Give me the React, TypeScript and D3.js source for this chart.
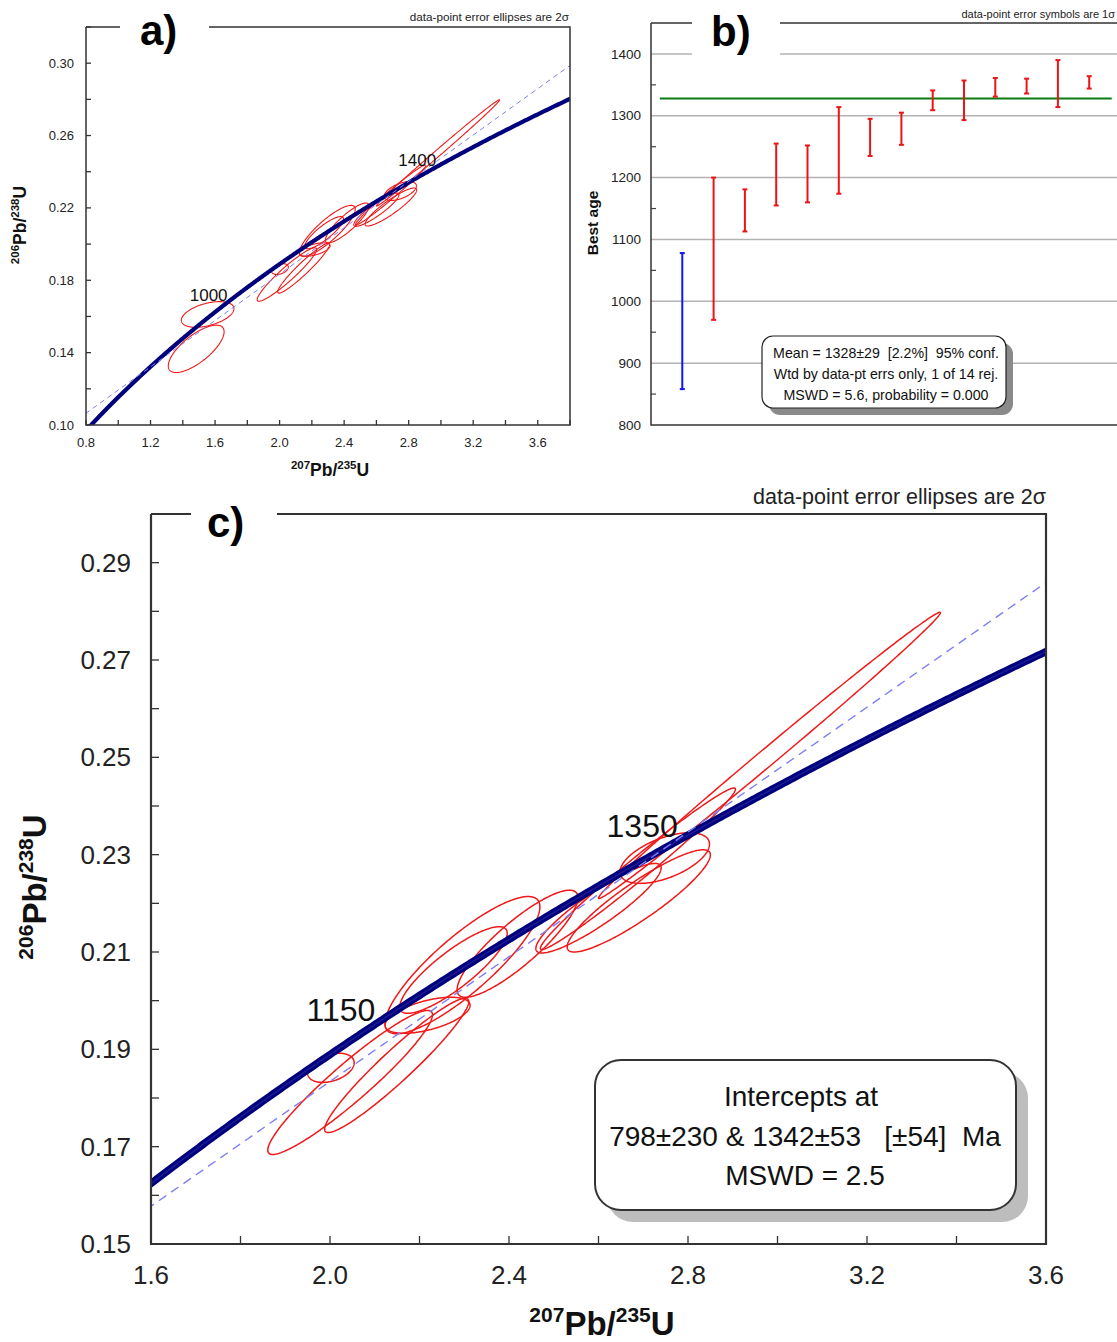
import React from 'react';
import * as d3 from 'd3';

// ---------- constants (decay constants, per Ma) ----------
const LAMBDA_238 = 1.55125e-4;
const LAMBDA_235 = 9.8485e-4;

// ---------- panel b data ----------
const grainRank = [1, 2, 3, 4, 5, 6, 7, 8, 9, 10, 11, 12, 13, 14];
const bestAge = [968, 1085, 1147, 1205, 1206, 1244, 1265, 1279, 1325, 1325, 1346, 1348, 1352, 1354];
const bestAgeErr1s = [110, 115, 34, 50, 46, 70, 30, 26, 16, 32, 15, 12, 38, 10];
const rejectedFlag = [true, false, false, false, false, false, false, false, false, false, false, false, false, false];
const weightedMeanAge = 1328;
const ageGridTicks = [900, 1000, 1100, 1200, 1300, 1400];
const ageLabelTicks = [800, 900, 1000, 1100, 1200, 1300, 1400];
const ageMinorTicks = [850, 950, 1050, 1150, 1250, 1350];

// ---------- concordia ellipse data (2 sigma) ----------
const ratio207_235 = [1.483, 1.554, 2.002, 2.045, 2.149, 2.218, 2.296, 2.276, 2.419, 2.600, 2.688, 2.748, 2.982, 2.690];
const ratio206_238 = [0.1421, 0.1611, 0.1862, 0.1832, 0.1867, 0.1970, 0.2073, 0.2063, 0.2117, 0.2190, 0.2271, 0.2293, 0.2504, 0.2205];
const err207_235 = [0.173, 0.163, 0.052, 0.184, 0.161, 0.095, 0.173, 0.120, 0.135, 0.140, 0.218, 0.100, 0.382, 0.160];
const err206_238 = [0.0131, 0.0071, 0.0030, 0.0148, 0.0138, 0.0037, 0.0141, 0.0089, 0.0110, 0.0092, 0.0166, 0.0052, 0.0294, 0.0105];
const errCorr = [0.72, 0.45, 0.35, 0.94, 0.95, 0.55, 0.85, 0.85, 0.86, 0.90, 0.985, 0.55, 0.997, 0.9];
const plottedInC = [false, false, true, true, true, true, true, true, true, true, true, true, true, true];

const interceptAges = [798, 1342];

// ---------- axis tick labels ----------
const xLabelsA = [0.8, 1.2, 1.6, 2.0, 2.4, 2.8, 3.2, 3.6];
const xTicksA = [0.8, 1.0, 1.2, 1.4, 1.6, 1.8, 2.0, 2.2, 2.4, 2.6, 2.8, 3.0, 3.2, 3.4, 3.6, 3.8];
const yLabelsA = [0.10, 0.14, 0.18, 0.22, 0.26, 0.30];
const yTicksA = [0.10, 0.12, 0.14, 0.16, 0.18, 0.20, 0.22, 0.24, 0.26, 0.28, 0.30, 0.32];
const ageLabelsA = [1000, 1400];

const xLabelsC = [1.6, 2.0, 2.4, 2.8, 3.2, 3.6];
const xTicksC = [1.6, 1.8, 2.0, 2.2, 2.4, 2.6, 2.8, 3.0, 3.2, 3.4, 3.6];
const yLabelsC = [0.15, 0.17, 0.19, 0.21, 0.23, 0.25, 0.27, 0.29];
const yTicksC = [0.15, 0.16, 0.17, 0.18, 0.19, 0.20, 0.21, 0.22, 0.23, 0.24, 0.25, 0.26, 0.27, 0.28, 0.29, 0.30];
const ageLabelsC = [1150, 1350];

const FONT = '"Liberation Sans", Arial, Helvetica, sans-serif';
const RED = '#f01818';
const NAVY = '#00007c';
const NB = '\u00A0';

const conc = (t: number): [number, number] => [Math.expm1(LAMBDA_235 * t), Math.expm1(LAMBDA_238 * t)];
const concordiaAges = d3.range(1, 2400, 2);

type PanelCfg = {
  id: string; left: number; right: number; top: number; bottom: number;
  xDom: [number, number]; yDom: [number, number];
  xTicks: number[]; yTicks: number[]; xLabels: number[]; yLabels: number[];
  xFmt: (v: number) => string; yFmt: (v: number) => string;
  tickLen: number; tickFont: number; xLabelY: number; yLabelX: number;
  concWidth: number; ellWidth: number; ageLabels: number[]; ageFont: number;
  ageDx: number; ageDy: number; subset: boolean[];
  frameW: number; gap: [number, number]; letter: string; letterX: number; letterY: number; letterSize: number;
  note: string; noteX: number; noteY: number; noteSize: number;
  titleSize: number; supSize: number; xTitleX: number; xTitleY: number; yTitleX: number; yTitleY: number;
};

function AxisTitle({ x, y, a, b, c, d, size, sup, rotate }: any) {
  return (
    <text x={x} y={y} textAnchor="middle" fontFamily={FONT} fontWeight="bold" fontSize={size} fill="#111"
      transform={rotate ? `rotate(-90 ${x} ${y})` : undefined}>
      <tspan fontSize={sup} dy={-size * 0.38}>{a}</tspan>
      <tspan dy={size * 0.38}>{b}</tspan>
      <tspan fontSize={sup} dy={-size * 0.38}>{c}</tspan>
      <tspan dy={size * 0.38}>{d}</tspan>
    </text>
  );
}

function ConcordiaPanel({ cfg }: { cfg: PanelCfg }) {
  const xs = d3.scaleLinear().domain(cfg.xDom).range([cfg.left, cfg.right]);
  const ys = d3.scaleLinear().domain(cfg.yDom).range([cfg.bottom, cfg.top]);
  const line = d3.line<[number, number]>().x(d => xs(d[0])).y(d => ys(d[1]));
  const concPath = line(concordiaAges.map(conc)) || '';
  const [p1, p2] = interceptAges.map(conc);
  const slope = (p2[1] - p1[1]) / (p2[0] - p1[0]);
  const discPath = line([
    [cfg.xDom[0] - 1, p1[1] + slope * (cfg.xDom[0] - 1 - p1[0])],
    [cfg.xDom[1] + 1, p1[1] + slope * (cfg.xDom[1] + 1 - p1[0])],
  ]) || '';
  const closed = d3.line<[number, number]>().x(d => xs(d[0])).y(d => ys(d[1])).curve(d3.curveLinearClosed);
  const ellPaths = ratio207_235.map((cx, i) => {
    if (!cfg.subset[i]) return '';
    const cy = ratio206_238[i], sx = err207_235[i], sy = err206_238[i], r = errCorr[i];
    const q = Math.sqrt(1 - r * r);
    const pts = d3.range(0, 360, 1.5).map(deg => {
      const th = (deg * Math.PI) / 180;
      return [cx + sx * Math.cos(th), cy + sy * (r * Math.cos(th) + q * Math.sin(th))] as [number, number];
    });
    return closed(pts) || '';
  });
  const clipId = `clip-${cfg.id}`;
  return (
    <g>
      <defs>
        <clipPath id={clipId}>
          <rect x={cfg.left} y={cfg.top} width={cfg.right - cfg.left} height={cfg.bottom - cfg.top} />
        </clipPath>
      </defs>
      <g clipPath={`url(#${clipId})`}>
        {ellPaths.map((p, i) => p ? (
          <path key={i} d={p} fill="none" stroke={RED} strokeWidth={cfg.ellWidth} />
        ) : null)}
        <path d={concPath} fill="none" stroke={NAVY} strokeWidth={cfg.concWidth} />
        {cfg.concWidth > 5 && <path d={concPath} fill="none" stroke="#1a1a96" strokeWidth={1.5} />}
        <path d={discPath} fill="none" stroke="#7f7ff2" strokeWidth={cfg.concWidth > 5 ? 1.4 : 1} strokeDasharray={cfg.concWidth > 5 ? '9 6' : '5 4'} />
      </g>
      {cfg.ageLabels.map(a => {
        const [px, py] = conc(a);
        return (
          <text key={a} x={xs(px) + cfg.ageDx} y={ys(py) + cfg.ageDy} textAnchor="end" fontFamily={FONT} fontSize={cfg.ageFont} fill="#111">{a}</text>
        );
      })}
      {cfg.xTicks.map(v => (
        <line key={'xt' + v} x1={xs(v)} x2={xs(v)} y1={cfg.bottom} y2={cfg.bottom - cfg.tickLen} stroke="#333" strokeWidth={1.3} />
      ))}
      {cfg.yTicks.map(v => (
        <line key={'yt' + v} x1={cfg.left} x2={cfg.left + cfg.tickLen} y1={ys(v)} y2={ys(v)} stroke="#333" strokeWidth={1.3} />
      ))}
      {cfg.xLabels.map(v => (
        <text key={'xl' + v} x={xs(v)} y={cfg.xLabelY} textAnchor="middle" fontFamily={FONT} fontSize={cfg.tickFont} fill="#222">{cfg.xFmt(v)}</text>
      ))}
      {cfg.yLabels.map(v => (
        <text key={'yl' + v} x={cfg.yLabelX} y={ys(v)} dy="0.35em" textAnchor="end" fontFamily={FONT} fontSize={cfg.tickFont} fill="#222">{cfg.yFmt(v)}</text>
      ))}
      <path d={`M${cfg.left},${cfg.top}V${cfg.bottom}H${cfg.right}V${cfg.top}H${cfg.gap[1]}M${cfg.gap[0]},${cfg.top}H${cfg.left}`}
        fill="none" stroke="#333" strokeWidth={cfg.frameW} />
      <text x={cfg.letterX} y={cfg.letterY} fontFamily={FONT} fontWeight="bold" fontSize={cfg.letterSize} fill="#000">{cfg.letter}</text>
      <text x={cfg.noteX} y={cfg.noteY} textAnchor="end" fontFamily={FONT} fontSize={cfg.noteSize} fill="#222">{cfg.note}</text>
      <AxisTitle x={cfg.xTitleX} y={cfg.xTitleY} a="207" b="Pb/" c="235" d="U" size={cfg.titleSize} sup={cfg.supSize} />
      <AxisTitle x={cfg.yTitleX} y={cfg.yTitleY} a="206" b="Pb/" c="238" d="U" size={cfg.titleSize} sup={cfg.supSize} rotate />
    </g>
  );
}

const cfgA: PanelCfg = {
  id: 'a', left: 86, right: 570, top: 27, bottom: 425,
  xDom: [0.8, 3.8], yDom: [0.10, 0.32],
  xTicks: xTicksA, yTicks: yTicksA, xLabels: xLabelsA, yLabels: yLabelsA,
  xFmt: d3.format('.1f'), yFmt: d3.format('.2f'),
  tickLen: 5, tickFont: 13, xLabelY: 447, yLabelX: 74,
  concWidth: 4.2, ellWidth: 1.1, ageLabels: ageLabelsA, ageFont: 17, ageDx: 0, ageDy: -1,
  subset: ratio207_235.map(() => true),
  frameW: 1.5, gap: [120, 209], letter: 'a)', letterX: 140, letterY: 45, letterSize: 42,
  note: 'data-point error ellipses are 2σ', noteX: 569, noteY: 21, noteSize: 11.7,
  titleSize: 17.5, supSize: 11.5, xTitleX: 330, xTitleY: 476, yTitleX: 26, yTitleY: 225,
};

const cfgC: PanelCfg = {
  id: 'c', left: 151, right: 1046, top: 514, bottom: 1244,
  xDom: [1.6, 3.6], yDom: [0.15, 0.30],
  xTicks: xTicksC, yTicks: yTicksC, xLabels: xLabelsC, yLabels: yLabelsC,
  xFmt: d3.format('.1f'), yFmt: d3.format('.2f'),
  tickLen: 8, tickFont: 26, xLabelY: 1284, yLabelX: 131,
  concWidth: 7.5, ellWidth: 1.5, ageLabels: ageLabelsC, ageFont: 32, ageDx: -1, ageDy: -3,
  subset: plottedInC,
  frameW: 2.2, gap: [191, 277], letter: 'c)', letterX: 207, letterY: 537, letterSize: 42,
  note: 'data-point error ellipses are 2σ', noteX: 1046, noteY: 504, noteSize: 21.5,
  titleSize: 33, supSize: 21, xTitleX: 602, xTitleY: 1335, yTitleX: 46, yTitleY: 887,
};

function PanelB() {
  const left = 651, top = 23, bottom = 425, right = 1130;
  const xs = d3.scaleLinear().domain([0, 15]).range([651, 1120.5]);
  const ys = d3.scaleLinear().domain([800, 1450]).range([425, 23]);
  return (
    <g>
      {ageGridTicks.map(v => (
        <line key={'g' + v} x1={left} x2={right} y1={ys(v)} y2={ys(v)} stroke="#b2b2b2" strokeWidth={1.5} />
      ))}
      {ageMinorTicks.map(v => (
        <line key={'m' + v} x1={left} x2={left + 5} y1={ys(v)} y2={ys(v)} stroke="#444" strokeWidth={1.2} />
      ))}
      <line x1={xs(0.28)} x2={xs(14.72)} y1={ys(weightedMeanAge)} y2={ys(weightedMeanAge)} stroke="#0b7a12" strokeWidth={2} />
      {grainRank.map((r, i) => {
        const col = rejectedFlag[i] ? '#1414f0' : '#ec1414';
        const x = xs(r);
        const y1 = ys(bestAge[i] + bestAgeErr1s[i]);
        const y2 = ys(bestAge[i] - bestAgeErr1s[i]);
        return (
          <g key={r} stroke={col} strokeWidth={2}>
            <line x1={x} x2={x} y1={y1} y2={y2} />
            <line x1={x - 2.5} x2={x + 2.5} y1={y1} y2={y1} />
            <line x1={x - 2.5} x2={x + 2.5} y1={y2} y2={y2} />
          </g>
        );
      })}
      <path d={`M${left},${top}V${bottom}H${right}M${right},${top}H780M692,${top}H${left}`} fill="none" stroke="#333" strokeWidth={1.5} />
      <rect x={692} y={0} width={88} height={60} fill="#fff" />
      <text x={711} y={46} fontFamily={FONT} fontWeight="bold" fontSize={42} fill="#000">b)</text>
      {ageLabelTicks.map(v => (
        <text key={'l' + v} x={641} y={ys(v)} dy="0.35em" textAnchor="end" fontFamily={FONT} fontSize={13.5} fill="#222">{v}</text>
      ))}
      <text x={598} y={223} textAnchor="middle" transform="rotate(-90 598 223)" fontFamily={FONT} fontWeight="bold" fontSize={15.5} fill="#111">Best age</text>
      <text x={1115} y={18} textAnchor="end" fontFamily={FONT} fontSize={11} fill="#222">data-point error symbols are 1σ</text>
      <rect x={769} y={343} width={244} height={72} rx={11} fill="#8a8a8a" />
      <rect x={762} y={336} width={244} height={72} rx={11} fill="#fff" stroke="#222" strokeWidth={1.2} />
      <g fontFamily={FONT} fontSize={14.2} fill="#111" textAnchor="middle">
        <text x={886} y={358}>{`Mean = 1328±29${NB}${NB}[2.2%]${NB}${NB}95% conf.`}</text>
        <text x={886} y={379}>{'Wtd by data-pt errs only, 1 of 14 rej.'}</text>
        <text x={886} y={400}>{'MSWD = 5.6, probability = 0.000'}</text>
      </g>
    </g>
  );
}

export default function App() {
  return (
    <svg width={1117} height={1342} viewBox="0 0 1117 1342"
      style={{ position: 'absolute', left: 0, top: 0, background: '#fff' }}>
      <rect x={0} y={0} width={1117} height={1342} fill="#fff" />
      <ConcordiaPanel cfg={cfgA} />
      <PanelB />
      <ConcordiaPanel cfg={cfgC} />
      <rect x={607} y={1072} width={421} height={150} rx={26} fill="#bdbdbd" />
      <rect x={595} y={1060} width={421} height={150} rx={26} fill="#fff" stroke="#333" strokeWidth={2} />
      <g fontFamily={FONT} fontSize={28} fill="#111" textAnchor="middle">
        <text x={801} y={1106}>Intercepts at</text>
        <text x={805} y={1146}>{`798±230 & 1342±53${NB}${NB}${NB}[±54]${NB}${NB}Ma`}</text>
        <text x={805} y={1185}>MSWD = 2.5</text>
      </g>
    </svg>
  );
}
